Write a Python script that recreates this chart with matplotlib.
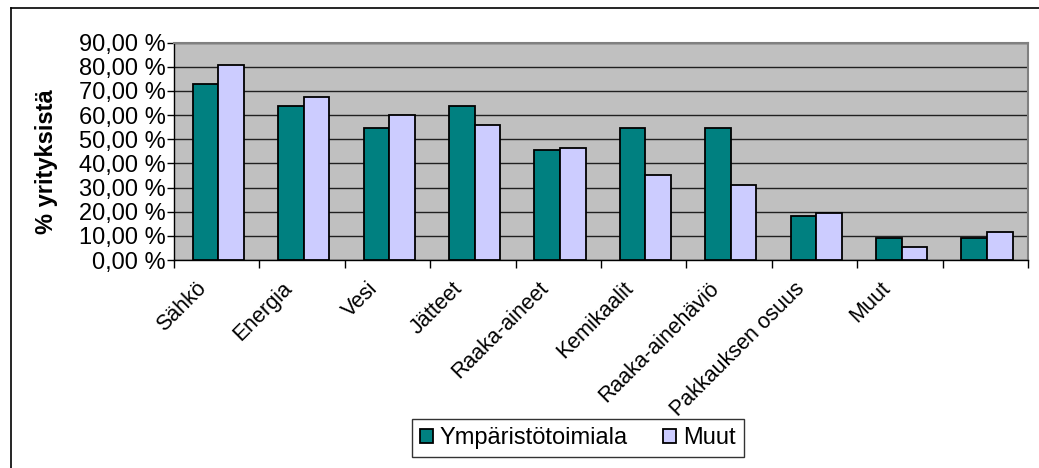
import matplotlib
matplotlib.use("Agg")
import matplotlib.pyplot as plt
from matplotlib.lines import Line2D
from matplotlib.ticker import FuncFormatter, FixedLocator
import numpy as np

plt.rcParams['font.family'] = ['Liberation Sans', 'DejaVu Sans']

# data
categories = ["Sähkö", "Energia", "Vesi", "Jätteet", "Raaka-aineet", "Kemikaalit",
              "Raaka-ainehäviö", "Pakkauksen osuus", "Muut", ""]
ymparisto = [72.7, 63.6, 54.5, 63.6, 45.5, 54.5, 54.5, 18.2, 9.1, 9.1]
muut = [80.7, 67.5, 60.2, 56.0, 46.2, 35.1, 30.9, 19.6, 5.4, 11.7]
series_names = ["Ympäristötoimiala", "Muut"]

fig = plt.figure(figsize=(10.39, 4.68), dpi=100)
ax = fig.add_axes([174/1039, 1-260/468, (1028-174)/1039, (260-42.7)/468])
ax.set_facecolor('#C0C0C0')

x = np.arange(len(categories))
w = 0.30
ax.bar(x - w/2 + 0.02, ymparisto, w, color='#008080', edgecolor='black', linewidth=1.3,
       label=series_names[0], zorder=3)
ax.bar(x + w/2 + 0.02, muut, w, color='#CCCCFF', edgecolor='black', linewidth=1.3,
       label=series_names[1], zorder=3)

ax.set_xlim(-0.5, len(categories) - 0.5)
ax.set_ylim(0, 90)
ax.set_yticks(np.arange(0, 91, 10))
ax.yaxis.set_major_formatter(FuncFormatter(lambda v, p: ("%.2f %%" % v).replace('.', ',')))
ax.yaxis.grid(True, color='#202020', linewidth=1.0, zorder=1)
ax.tick_params(axis='y', length=5, width=1, labelsize=17, pad=1, direction='out')

# category labels (shifted a little left of centre), ticks at category boundaries
ax.set_xticks(x - 0.24)
ax.set_xticklabels(categories, rotation=45, ha='right', rotation_mode='anchor', fontsize=15.5)
ax.tick_params(axis='x', which='major', length=0, pad=13)
ax.xaxis.set_minor_locator(FixedLocator(np.arange(-0.5, len(categories), 1.0)))
ax.tick_params(axis='x', which='minor', length=6, width=1, direction='out')

for side in ['top', 'right']:
    ax.spines[side].set_color('#808080')
    ax.spines[side].set_linewidth(1.5)
for side in ['left', 'bottom']:
    ax.spines[side].set_color('black')
    ax.spines[side].set_linewidth(1)

fig.text(47/1039, 1-162/468, "% yrityksistä", rotation=90, fontsize=17, fontweight='bold',
         ha='center', va='center')

leg = fig.legend(loc='center', bbox_to_anchor=(578/1039, 1-438/468), ncol=2, fontsize=17,
                 frameon=True, fancybox=False, shadow=False, handlelength=0.55,
                 handleheight=0.55, handletextpad=0.3, columnspacing=1.5, borderpad=0.35)
leg.get_frame().set_edgecolor('black')
leg.get_frame().set_linewidth(1)

# outer chart border (cropped on right and bottom)
fig.add_artist(Line2D([11/1039, 1.0], [1-8/468, 1-8/468], color='black', linewidth=1.2,
                      transform=fig.transFigure))
fig.add_artist(Line2D([11/1039, 11/1039], [1-8/468, 0.0], color='black', linewidth=1.2,
                      transform=fig.transFigure))

fig.savefig("out.png", dpi=100)
